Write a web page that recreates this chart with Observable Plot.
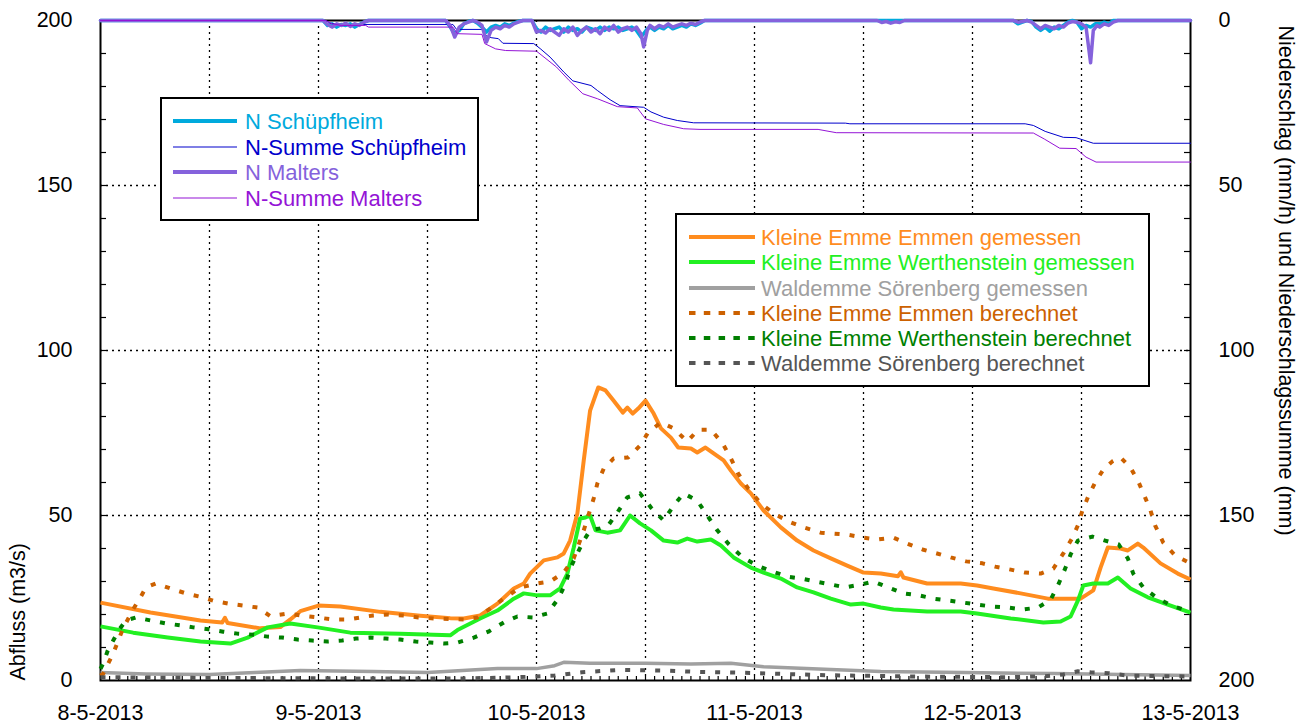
<!DOCTYPE html>
<html><head><meta charset="utf-8">
<script src="https://cdn.jsdelivr.net/npm/d3@7"></script>
<script src="https://cdn.jsdelivr.net/npm/@observablehq/plot@0.6"></script>
<style>
body{margin:0;background:#fff;font-family:"Liberation Sans",Arial,sans-serif}
#wrap{position:relative;width:1305px;height:725px;overflow:hidden}
.leg{position:absolute;overflow:visible}
</style></head><body><div id="wrap"></div>
<script>
// ---- data: [hours since 8-5-2013 00:00, value] ----
const emmenGemessen = [[0,23.6],[5.5,20.6],[11,18.2],[13.4,17.6],[13.7,19.0],[14,17.4],[17.6,15.8],[19.8,16.2],[20.9,18.5],[22,21],[24,22.7],[26.4,22.4],[30.8,20.8],[35.2,19.6],[38.5,18.9],[40,18.8],[41.8,19.7],[43.7,23.3],[45.5,27.9],[46.6,29.4],[47.3,32.4],[48.8,36.4],[50.3,37.3],[51,38.5],[51.7,42.4],[52.5,50.6],[53.2,66.7],[53.9,81.8],[54.8,88.8],[55.6,87.9],[56.5,84.8],[57.5,81.2],[58,82.7],[58.6,80.9],[59.2,82.4],[60,84.8],[60.9,80.9],[61.7,76.4],[62.8,73.6],[63.6,70.6],[65,70.3],[65.7,69.1],[66.6,70.6],[67.5,68.8],[68.6,66.7],[69.4,63.6],[70.5,59.7],[71.6,56.7],[73,51.5],[74.9,46.4],[76.7,42.4],[78.5,39.4],[80.4,37],[82.2,34.8],[84,32.7],[85.9,32.4],[87.8,31.6],[88.1,32.8],[88.4,31.2],[91,29.4],[94.7,29.4],[96.5,28.8],[98.3,27.9],[101.3,26.4],[104.3,24.8],[107.9,24.8],[109.3,27.3],[110.1,34.2],[110.9,40.3],[112.3,40],[113.1,39.4],[114.2,41.5],[114.8,40.3],[116.7,35.5],[118.6,32.4],[120,30.6]];
const werthGemessen = [[0,16.4],[3.6,14.5],[7.4,13],[11,11.8],[14.3,11.2],[16.2,13],[18.4,16.1],[20.9,17.3],[23.9,16.1],[27.5,14.5],[33,14.2],[38.5,13.7],[39.3,15.3],[41.8,18.8],[43.7,21.2],[45.5,24.8],[46.6,26.4],[48.1,25.8],[49.5,25.8],[50.6,27.9],[51.4,32.4],[52.1,40.3],[52.8,49.1],[53.4,49.4],[53.9,50],[54.5,45.5],[55.8,44.8],[57.2,45.5],[58.3,50],[59.4,47.6],[60.6,45.5],[62,42.4],[63.5,41.8],[64.6,43],[65.7,42.1],[67.2,42.7],[68.3,40.9],[69.7,37.3],[71.6,34.2],[73,32.7],[74.9,30.9],[76.7,28.2],[78.5,26.7],[80.4,24.8],[82.6,23],[84,23.3],[85.9,22.1],[87.3,21.5],[91,20.9],[94.7,20.9],[96.5,20.3],[100.2,18.8],[103.8,17.6],[105.7,17.9],[106.8,19.4],[107.6,24.2],[108.2,28.8],[109.3,29.4],[110.9,29.4],[112,31.2],[113.4,27.9],[115.3,25.2],[117.5,23],[120,20.6]];
const waldGemessen = [[0,2.4],[5,2.0],[12,1.8],[17,2.4],[22,3.0],[30,2.7],[36,2.4],[43.7,3.6],[48,3.6],[50,4.5],[51,5.5],[53.9,5.2],[60,5.2],[65,5.0],[69.4,5.2],[73,4.2],[80.4,3.3],[85.9,2.7],[95,2.4],[105,2.1],[120,1.5]];
const emmenBerechnet = [[0,1.5],[0.3,2.1],[1.4,8.2],[2.4,15.2],[3.5,21.2],[4.4,25.2],[5,28.2],[6.1,29.4],[7.7,27.9],[9.4,26.4],[10.8,25.5],[12.4,24.2],[14.1,23.3],[15.7,22.7],[17.3,22.1],[18.7,19.5],[20.6,20.3],[22,19.7],[23.9,19.1],[25.5,18.5],[27.2,18.5],[28.6,19.1],[30,19.7],[31.7,20],[33.4,19.7],[35,19.1],[36.7,18.8],[40,18.5],[41.5,19.1],[42.9,21.8],[44.4,24.8],[46.2,28.2],[48.1,29.4],[49.5,30],[51,32.7],[52.1,37],[53.2,45.5],[54.3,55.2],[54.7,59.7],[55.4,64.2],[56.5,67.3],[58.1,67.6],[59.4,71.2],[60.3,75.2],[61.7,78.2],[63.1,76.4],[64.6,72.4],[65.8,76],[67.2,76],[68.5,71.8],[69.4,67.3],[70.2,62.7],[71.3,58.2],[72.7,53.6],[74.3,50.3],[76,47.9],[77.4,46.4],[79.3,44.8],[80.7,44.5],[82.2,44.2],[84,43.3],[85.5,42.7],[87.3,43.3],[88.8,41.5],[90.5,39.7],[92.1,38.5],[93.6,37.3],[95.3,36.1],[97.1,35.5],[98.5,34.5],[100.2,33.6],[101.8,32.7],[103.5,32.4],[104.9,33.9],[106,38.5],[107,43.3],[107.6,47],[108.1,51.5],[108.7,55.5],[109.5,60],[110.4,63.9],[111.4,66.4],[112.3,67.6],[113.4,64.5],[114.3,60],[115,55.5],[115.6,51.5],[116.1,47],[117,41.8],[118.3,37.9],[120,35.5]];
const werthBerechnet = [[0,3.5],[0.3,5.2],[0.8,9.1],[1.4,12.1],[2,15.2],[2.8,18.2],[3.9,19.1],[5.5,18.2],[7.2,17.3],[8.8,16.7],[10.2,16.1],[11.9,15.5],[13.5,14.8],[15.1,14.2],[16.8,13.9],[18.4,13.3],[20,13],[21.7,12.4],[23.3,12.1],[25,11.8],[26.6,12.1],[28.1,12.7],[29.7,13],[31.4,12.7],[33,12.4],[34.7,11.8],[36.3,11.5],[37.8,11.2],[39.3,11.5],[41.1,13],[42.7,14.8],[44.4,17.6],[45.9,19.4],[47.6,19.1],[49.2,20.3],[50.4,24.8],[51.2,29.4],[51.7,33.9],[52.5,38.5],[53.2,42.4],[53.9,45.5],[55,46.1],[55.9,47],[56.9,50.9],[58,55.5],[59.4,56.7],[60.6,52.4],[62,48.5],[63.1,53],[64.2,56.7],[65.7,54.5],[66.8,50],[67.9,45.5],[69.1,41.5],[70.7,37.3],[72.3,34.8],[74,33],[75.6,31.5],[77.1,30.9],[78.7,30],[80.4,29.1],[82,28.2],[83.7,29.1],[85.1,30],[87,27.9],[88.4,26.4],[90.1,25.8],[91.7,24.8],[93.4,24.2],[95,23.6],[96.5,23],[98.2,22.4],[99.9,22.1],[101.5,21.5],[103.2,22.1],[104.6,24.5],[105.5,29.4],[106.2,33.9],[106.8,38.2],[107.6,42.4],[109.2,43.6],[110.6,42.4],[112.1,41.2],[113.1,37],[113.7,32.4],[114.8,28.2],[116.4,24.8],[118.2,22.4],[120,20.9]];
const waldBerechnet = [[0,1.0],[10,0.8],[20,0.7],[30,0.6],[40,0.6],[46,1.0],[50,1.5],[53,2.5],[57,3.2],[62,3.0],[66,2.6],[70,2.4],[75,2.0],[80,1.6],[90,1.2],[100,1.0],[104,1.3],[106,1.8],[107.6,2.8],[109,2.5],[111,2.2],[113,1.5],[120,1.2]];
// precipitation (right axis, reversed)
const nSchuepfheim = [[0,0],[24.5,0],[25,1.5],[25.5,1.0],[26,2.0],[26.5,1.2],[27,1.5],[27.5,1.0],[28,2.0],[28.5,1.2],[29,0.5],[29.5,0],[38,0],[38.5,2.0],[39,4.0],[39.5,3.0],[40,1.0],[40.5,0.3],[41,0],[41.5,0.8],[42,2.0],[42.5,3.5],[43,2.0],[43.5,1.5],[44,2.0],[44.5,1.0],[45,1.5],[45.5,0.8],[46,0.3],[46.5,0],[47.5,0],[48,2.5],[48.5,3.5],[49,2.0],[49.5,3.0],[50,2.5],[50.5,2.0],[51,3.5],[51.5,2.0],[52,3.0],[52.5,2.5],[53,3.5],[53.5,2.0],[54,2.5],[54.5,3.0],[55,2.0],[55.5,3.0],[56,2.0],[56.5,2.5],[57,2.0],[57.5,3.0],[58,2.5],[58.5,2.0],[59,3.0],[59.5,5.0],[59.8,4.0],[60.2,2.5],[60.5,2.0],[61,3.0],[61.5,2.0],[62,2.5],[62.5,1.5],[63,2.5],[63.5,2.0],[64,1.5],[64.5,2.0],[65,1.0],[65.5,1.5],[66,0.8],[66.5,0],[100.5,0],[101,1.0],[101.5,0.5],[102,0],[102.5,0.3],[103,2.0],[103.5,3.0],[104,2.0],[104.5,3.2],[105,2.0],[105.5,2.5],[106,1.5],[106.5,0.5],[107,0],[107.5,0.5],[108,2.5],[108.5,1.5],[109,2.0],[109.5,1.0],[110,1.0],[110.5,0.5],[111,1.0],[111.5,0],[120,0]];
const nMalters = [[0,0],[24.5,0],[25,1.2],[25.5,2.0],[26,1.0],[26.5,1.5],[27,0.8],[27.5,1.8],[28,1.0],[28.5,1.5],[29,0.5],[29.5,0],[38,0],[38.5,1.5],[39,5.0],[39.5,2.0],[40,1.0],[40.5,0.5],[41,0],[41.5,0.5],[42,1.5],[42.5,6.5],[43,3.0],[43.5,2.0],[44,2.5],[44.5,1.5],[45,2.0],[45.5,1.0],[46,0.5],[46.5,0],[47.5,0],[48,3.5],[48.5,3.0],[49,3.8],[49.5,2.5],[50,3.5],[50.5,4.5],[51,2.5],[51.5,3.5],[52,2.0],[52.5,4.5],[53,3.0],[53.5,2.0],[54,3.5],[54.5,2.5],[55,4.0],[55.5,2.0],[56,3.0],[56.5,1.5],[57,3.5],[57.5,2.5],[58,2.0],[58.5,3.0],[59,2.0],[59.5,4.0],[59.8,8.0],[60.2,3.0],[60.5,1.5],[61,2.5],[61.5,1.5],[62,2.0],[62.5,1.0],[63,2.0],[63.5,1.5],[64,1.0],[64.5,1.5],[65,0.8],[65.5,1.2],[66,0.5],[66.5,0],[85.5,0],[86,0.6],[86.5,0.3],[87,0.8],[87.5,0.4],[88,0.6],[88.5,0],[100.5,0],[101,0.5],[101.5,0.3],[102,0],[102.5,0.5],[103,1.5],[103.5,2.5],[104,1.5],[104.5,2.0],[105,2.5],[105.5,1.5],[106,2.0],[106.5,0.8],[107,0.3],[107.5,0.5],[108,1.0],[108.5,2.0],[109,12.8],[109.3,3.0],[109.7,1.5],[110,2.0],[110.5,1.0],[111,1.5],[111.5,0.5],[112,0],[120,0]];
const sumSchuepfheim = [[0,0],[24.8,0],[25.3,0.8],[26,1.2],[38.8,1.2],[39.2,2.7],[42,2.7],[42.4,4.5],[43,5.2],[43.8,5.5],[44.3,6.9],[47.7,7.0],[48.4,8.5],[49.5,11.1],[51,15.6],[52,18.3],[54,19.7],[54.7,21.2],[56.1,24],[57.2,25.8],[59.8,26.3],[60.6,27.7],[62,29.3],[63.5,30.3],[65.3,31],[82,31.1],[82.5,31.3],[101.8,31.3],[102.7,31.8],[104,33.6],[106,35.4],[107.4,35.5],[109.3,37.2],[120,37.2]];
const sumMalters = [[0,0],[24.8,0],[25.5,1.0],[26.5,1.5],[29.2,1.5],[29.5,2.0],[38.8,2.0],[39.3,4.0],[42,4.2],[42.3,7.0],[43.5,8.6],[44.6,9.1],[48,9.3],[48.6,10.6],[50.2,14.1],[51.6,18.2],[53.1,22.2],[54.7,23.7],[56.9,26.1],[59.1,26.5],[60,29.8],[62,31.5],[64.2,32.8],[66,33],[79,33],[81,34],[102.7,34.1],[103.9,35.9],[105.6,38.7],[107.4,38.8],[108.5,41.4],[109.6,42.9],[120,42.9]];

const yTicks = [0, 50, 100, 150, 200];
const dayTicks = [0, 24, 48, 72, 96, 120];
const precipLegend = ["N Schüpfheim", "N-Summe Schüpfheim", "N Malters", "N-Summe Malters"];
const flowLegend = ["Kleine Emme Emmen gemessen", "Kleine Emme Werthenstein gemessen", "Waldemme Sörenberg gemessen", "Kleine Emme Emmen berechnet", "Kleine Emme Werthenstein berechnet", "Waldemme Sörenberg berechnet"];

// ---- styles ----
const FONT = "Liberation Sans, Arial, Helvetica, sans-serif";
const C = {
  emmenG: "#ff8c1e", werthG: "#22f022", waldG: "#a0a0a0",
  emmenB: "#cc6100", werthB: "#007f00", waldB: "#555555",
  nS: "#00aadd", sS: "#0000cc", nM: "#8562dc", sM: "#9414d6"
};
const T0 = Date.UTC(2013, 4, 8);
const toDate = h => new Date(T0 + h * 3600e3);
const rows = a => a.map(([h, v]) => ({t: toDate(h), v}));
const fmtDate = d => `${d.getUTCDate()}-${d.getUTCMonth() + 1}-${d.getUTCFullYear()}`;

const flowSeries = [
  {d: emmenGemessen, c: C.emmenG, w: 4, dash: null},
  {d: werthGemessen, c: C.werthG, w: 4, dash: null},
  {d: waldGemessen, c: C.waldG, w: 3.5, dash: null},
  {d: emmenBerechnet, c: C.emmenB, w: 4, dash: "5,10"},
  {d: werthBerechnet, c: C.werthB, w: 4, dash: "5,10"},
  {d: waldBerechnet, c: C.waldB, w: 4, dash: "5,10"}
];
const precipSeries = [
  {d: nSchuepfheim, c: C.nS, w: 3.5},
  {d: sumSchuepfheim, c: C.sS, w: 1},
  {d: nMalters, c: C.nM, w: 3.5},
  {d: sumMalters, c: C.sM, w: 1}
];

const gridH = d3.range(12, 120, 12).map(toDate);
const hourTicks = d3.range(1, 120).map(toDate);
const minorY = d3.range(10, 200, 10);
const dotted = {stroke: "#000", strokeOpacity: 1, strokeWidth: 1.3, strokeDasharray: "2,4"};

const chart = Plot.plot({
  width: 1305, height: 725,
  marginLeft: 100, marginRight: 115, marginTop: 20, marginBottom: 45,
  style: {fontFamily: FONT, fontSize: "21.5px", color: "#000", background: "#fff"},
  x: {type: "utc", domain: [toDate(0), toDate(120)]},
  y: {domain: [0, 200]},
  marks: [
    Plot.gridX(gridH, dotted),
    Plot.gridY([50, 100, 150], dotted),
    Plot.tickX(hourTicks, {x: d => d, insetTop: 656, stroke: "#000", strokeWidth: 1.2}),
    Plot.tickY(minorY, {y: d => d, insetRight: 1084, stroke: "#000", strokeWidth: 1.2}),
    Plot.tickY(minorY, {y: d => d, insetLeft: 1084, stroke: "#000", strokeWidth: 1.2}),
    Plot.frame({stroke: "#000", strokeWidth: 2}),
    ...flowSeries.map(s => Plot.line(rows(s.d), {x: "t", y: "v", stroke: s.c, strokeWidth: s.w, strokeDasharray: s.dash, strokeLinejoin: "round", strokeLinecap: "butt"})),
    ...precipSeries.map(s => Plot.line(rows(s.d), {x: "t", y: d => 200 - d.v, stroke: s.c, strokeWidth: s.w, strokeLinejoin: "round"})),
    Plot.axisY({anchor: "left", ticks: yTicks, tickSize: 0, tickPadding: 28, fontSize: 21.5, label: null}),
    Plot.axisY({anchor: "right", ticks: yTicks, tickFormat: d => String(200 - d), tickSize: 0, tickPadding: 28, fontSize: 21.5, label: null}),
    Plot.axisX({anchor: "bottom", ticks: dayTicks.map(toDate), tickFormat: fmtDate, tickSize: 0, tickPadding: 24, fontSize: 21.5, label: null}),
    Plot.text(["Abfluss (m3/s)"], {frameAnchor: "bottom-left", dx: -82, rotate: -90, textAnchor: "start", lineAnchor: "middle", fontSize: 21.5, fill: "#000"}),
    Plot.text(["Niederschlag (mm/h) und Niederschlagssumme (mm)"], {frameAnchor: "top-right", dx: 95, dy: 5, rotate: 90, textAnchor: "start", lineAnchor: "middle", fontSize: 21.5, fill: "#000"})
  ]
});
const wrap = document.getElementById("wrap");
wrap.appendChild(chart);

// ---- legends ----
function legend(left, top, w, h, items, lineX0, lineX1, textX, rowY) {
  const svg = d3.select(wrap).append("svg").attr("class", "leg")
    .style("left", left + "px").style("top", top + "px")
    .attr("width", w).attr("height", h);
  svg.append("rect").attr("x", 1).attr("y", 1).attr("width", w - 2).attr("height", h - 2)
    .attr("fill", "#fff").attr("stroke", "#000").attr("stroke-width", 2);
  items.forEach((it, i) => {
    const y = rowY[i];
    svg.append("line").attr("x1", lineX0).attr("x2", lineX1).attr("y1", y).attr("y2", y)
      .attr("stroke", it.c).attr("stroke-width", it.w).attr("stroke-dasharray", it.dash || null);
    svg.append("text").attr("x", textX).attr("y", y + 8).attr("fill", it.c)
      .attr("font-family", FONT).attr("font-size", 22).text(it.name);
  });
}
legend(160, 97, 319, 124,
  precipLegend.map((name, i) => ({name, c: precipSeries[i].c, w: precipSeries[i].w === 1 ? 1.2 : 4})),
  13, 77, 85, [24, 50, 75, 101]);
legend(675, 213, 475, 174,
  flowLegend.map((name, i) => ({name, c: flowSeries[i].c, w: 4, dash: flowSeries[i].dash ? "6.5,8.3" : null})),
  14, 80, 86, [24, 49, 75, 100, 125, 150]);
</script></body></html>
